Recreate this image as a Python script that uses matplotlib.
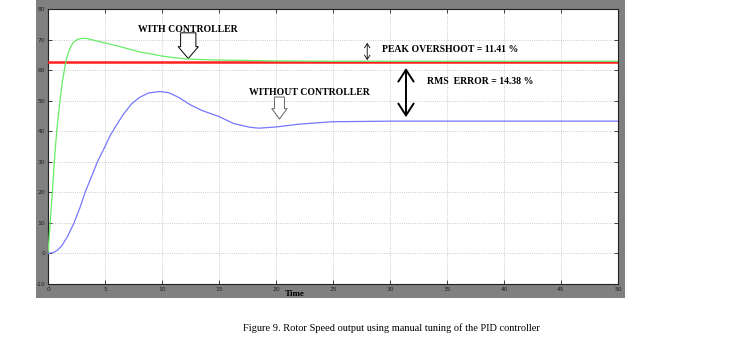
import matplotlib
matplotlib.use('Agg')
from matplotlib import pyplot as plt
from matplotlib.patches import Rectangle

plt.rcParams['axes.unicode_minus'] = False

# response
t_with = [0, 0.18, 0.38, 0.55, 0.76, 1.05, 1.25, 1.43, 1.64, 1.9, 2.2, 2.6, 3.0, 3.5,
          4.0, 5.0, 6, 7, 8, 9, 10, 11, 12, 13, 15, 17, 20, 25, 50]
v_with = [0, 10, 20, 30, 40, 50, 56, 60, 64, 67, 69, 70.1, 70.4, 70.3,
          69.8, 68.9, 68, 67, 66, 65.3, 64.6, 64.1, 63.7, 63.5, 63.3, 63.2, 63.0, 62.9, 62.9]

t_without = [0, 0.45, 0.8, 1.2, 1.7, 2.28, 2.8, 3.25, 3.8, 4.33, 5.0, 5.44, 6.0, 6.6,
             7.34, 8, 8.8, 9.8, 10.6, 11.5, 12.5, 13.5, 15, 16.3, 17.7, 18.5, 20, 22,
             24.9, 30, 50]
v_without = [0, 0.3, 1, 2.5, 5.5, 10, 15, 20, 25, 30, 35, 38.5, 42, 45.5,
             49, 51, 52.5, 53, 52.6, 51, 48.6, 46.8, 44.8, 42.5, 41.3, 41.0, 41.4, 42.3,
             43.1, 43.3, 43.3]

t_ref = [0, 50]
v_ref = [62.7, 62.7]

xticks = list(range(0, 55, 5))
yticks = list(range(-10, 90, 10))

serif = 'Liberation Serif'

fig = plt.figure(figsize=(7.3, 3.49), dpi=100)
fig.patches.append(Rectangle((0.0493, 0.1461), 0.8068, 0.8539, transform=fig.transFigure,
                             facecolor='#808080', edgecolor='none', zorder=-5))
ax = fig.add_axes([0.0658, 0.1862, 0.7808, 0.788])
ax.set_zorder(2)
ax.set_facecolor('white')

ax.plot(t_ref, v_ref, color='#ff2020', lw=1.8, zorder=3)
ax.plot(t_with, v_with, color='#66ee66', lw=0.9, zorder=4)
ax.plot(t_without, v_without, color='#7777ff', lw=0.9, zorder=4)

ax.set_xlim(0, 50)
ax.set_ylim(-10, 80)
ax.set_xticks(xticks)
ax.set_yticks(yticks)
ax.tick_params(direction='in', length=3, width=0.6, labelsize=4.3, colors='#222222',
               top=True, right=True, pad=2)
ax.grid(True, color='#bbbbbb', ls=':', lw=0.6)
for s in ax.spines.values():
    s.set_color('#222222')
    s.set_linewidth(0.8)

# annotations
bold = dict(family=serif, fontweight='bold', fontsize=7, color='black')
ax.text(12.3, 73.4, 'WITH CONTROLLER', ha='center', va='center', **bold)
ax.annotate('', xy=(12.3, 63.8), xytext=(12.3, 72.2),
            arrowprops=dict(arrowstyle='simple,head_width=1.45,head_length=0.85,tail_width=1.1',
                            fc='white', ec='black', lw=0.7, shrinkA=0, shrinkB=0))
ax.text(22.9, 52.8, 'WITHOUT CONTROLLER', ha='center', va='center', **bold)
ax.annotate('', xy=(20.3, 44.0), xytext=(20.3, 51.2),
            arrowprops=dict(arrowstyle='simple,head_width=1.1,head_length=0.75,tail_width=0.72',
                            fc='white', ec='#666666', lw=0.7, shrinkA=0, shrinkB=0))
ax.text(29.3, 66.9, 'PEAK OVERSHOOT = 11.41 %', ha='left', va='center', **bold)
ax.annotate('', xy=(28.0, 63.3), xytext=(28.0, 68.9),
            arrowprops=dict(arrowstyle='<->,head_width=0.2,head_length=0.3',
                            color='black', lw=0.6, shrinkA=0, shrinkB=0))
ax.text(33.2, 56.4, 'RMS  ERROR = 14.38 %', ha='left', va='center', **bold)
ax.annotate('', xy=(31.4, 44.6), xytext=(31.4, 60.7),
            arrowprops=dict(arrowstyle='<->,head_width=0.55,head_length=0.85',
                            color='black', lw=1.4, shrinkA=0, shrinkB=0))

fig.text(0.404, 0.158, 'Time', ha='center', va='center', family=serif,
         fontweight='bold', fontsize=6.5, color='black')
fig.text(0.536, 0.060, 'Figure 9. Rotor Speed output using manual tuning of the PID controller',
         ha='center', va='center', family=serif, fontsize=7.5, color='black')

fig.savefig('out.png', dpi=100, facecolor='white')
